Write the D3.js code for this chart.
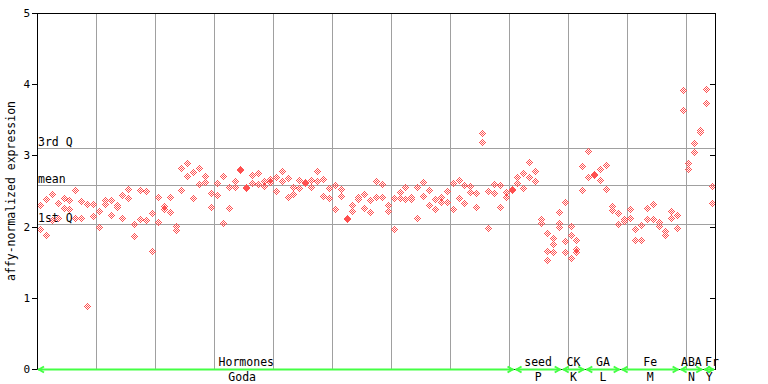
<!DOCTYPE html>
<html><head><meta charset="utf-8">
<script src="https://cdn.jsdelivr.net/npm/d3@7"></script>
<style>body{margin:0;background:#fff}svg{display:block}text{font-family:"DejaVu Sans Mono",monospace;}</style>
</head><body><svg id="c" width="768" height="384"></svg>
<script>
// ---- data ----
const sampleCount = 115;
const replicateA = [2.29,2.37,2.45,2.32,2.39,2.36,2.50,2.34,2.31,2.31,2.21,2.36,2.36,2.29,2.43,2.52,2.02,2.50,2.49,2.17,
 2.40,2.275,2.40,1.99,2.81,2.88,2.75,2.81,2.70,2.46,2.60,2.70,2.54,2.63,2.80,2.54,2.715,2.74,2.63,2.655,
 2.68,2.77,2.67,2.54,2.64,2.61,2.64,2.77,2.655,2.53,2.57,2.514,2.10,2.29,2.40,2.444,2.36,2.63,2.584,2.29,
 2.39,2.47,2.54,2.40,2.54,2.61,2.50,2.374,2.40,2.486,2.60,2.64,2.57,2.556,2.46,3.30,2.486,2.584,2.57,2.47,
 2.514,2.68,2.74,2.89,2.77,2.09,1.90,1.826,2.19,2.33,1.99,1.80,2.84,3.05,2.73,2.795,2.85,2.275,2.18,2.09,
 2.233,1.95,2.01,2.25,2.306,2.05,1.925,2.21,2.15,3.90,2.88,3.16,3.34,3.92,2.556];
const replicateB = [1.95,1.87,2.08,2.11,2.25,2.23,2.11,2.11,0.875,2.14,1.98,2.31,2.15,2.26,2.10,2.39,1.85,2.09,2.08,1.64,
 2.05,2.24,2.19,1.94,2.50,2.70,2.39,2.58,2.61,2.26,2.43,2.04,2.25,2.54,2.786,2.526,2.60,2.584,2.556,2.61,
 2.486,2.63,2.40,2.44,2.53,2.596,2.54,2.63,2.416,2.39,2.233,2.416,2.086,2.205,2.374,2.247,2.19,2.40,2.40,2.205,
 1.95,2.39,2.374,2.374,2.107,2.416,2.29,2.233,2.33,2.33,2.233,2.39,2.317,2.47,2.26,3.174,1.966,2.458,2.26,2.40,
 2.50,2.60,2.53,2.68,2.63,2.036,1.64,1.74,2.036,1.78,1.87,1.67,2.50,2.68,2.716,2.64,2.514,2.22,2.02,2.065,
 2.107,1.80,1.80,2.095,2.095,1.995,1.87,2.11,1.97,3.62,2.79,3.03,3.31,3.72,2.317];
const replicateC = {86:1.51, 87:1.63, 88:1.98, 89:1.63, 90:1.545, 91:1.63};
const yTicks = [0,1,2,3,4,5];
const refLabels = ["3rd Q","mean","1st Q"];
const refValues = [3.104,2.584,2.036];
const groupTop = ["Hormones","seed","CK","GA","Fe","ABA","Fr"];
const groupBottom = ["Goda","P","K","L","M","N","Y"];
const groupStart = [0,81,89,93,99,109,113];
const groupEnd = [81,89,93,99,109,113,115];
const topLabelAt = [35.5,85,91,96,104,111,114.5];
const bottomLabelAt = [34.8,85,91,96,104,111,114];
const yTitle = "affy-normalized expression";

// ---- chart ----
const svg = d3.select("#c");
const L = 37, R = 715, T = 13, B = 369;
const x = d3.scaleLinear().domain([0, sampleCount]).range([L, R]);
const y = d3.scaleLinear().domain([0, 5]).range([B, T]);
const px = v => Math.round(v) + 0.5;
const grid = "#a0a0a0", red = "#ff5050", green = "#44ff44";

// vertical grid
const gx = d3.range(10, sampleCount, 10);
svg.append("g").selectAll("line").data(gx).join("line")
  .attr("x1", d => px(x(d))).attr("x2", d => px(x(d)))
  .attr("y1", T).attr("y2", B).attr("stroke", grid).attr("shape-rendering","crispEdges");
// reference lines
svg.append("g").selectAll("line").data(refValues).join("line")
  .attr("x1", L).attr("x2", R).attr("y1", d => px(y(d))).attr("y2", d => px(y(d)))
  .attr("stroke", grid).attr("shape-rendering","crispEdges");
svg.append("g").selectAll("text").data(refLabels).join("text")
  .attr("x", L + 1).attr("y", (d,i) => Math.round(y(refValues[i])) - 2)
  .attr("font-size", "11.5px").attr("fill", "#000").text(d => d);

// points
const pts = [];
replicateA.forEach((v,i) => pts.push([i, v]));
replicateB.forEach((v,i) => pts.push([i, v]));
Object.entries(replicateC).forEach(([i,v]) => pts.push([+i, v]));
const offs = [];
for (let dx=-3; dx<=3; dx++) for (let dy=-3; dy<=3; dy++)
  if (Math.abs(dx)+Math.abs(dy) <= 3 && Math.abs(dx+dy) % 2 === 1) offs.push([dx,dy]);
const pg = svg.append("g").attr("fill", red).attr("shape-rendering","crispEdges");
pts.forEach(([i,v]) => {
  const cx = Math.round(x(i + 0.5)), cy = Math.round(y(v)) - 1;
  pg.append("g").selectAll("rect").data(offs).join("rect")
    .attr("x", d => cx + d[0]).attr("y", d => cy + d[1]).attr("width", 1).attr("height", 1);
});

// frame & axes
const ax = svg.append("g").attr("stroke", "#000").attr("shape-rendering","crispEdges");
ax.append("line").attr("x1", L+0.5).attr("x2", L+0.5).attr("y1", T).attr("y2", B+1);
ax.append("line").attr("x1", R+0.5).attr("x2", R+0.5).attr("y1", T).attr("y2", B+1);
ax.append("line").attr("x1", L).attr("x2", R+1).attr("y1", T+0.5).attr("y2", T+0.5);
ax.append("line").attr("x1", L).attr("x2", R+1).attr("y1", B+0.5).attr("y2", B+0.5);
ax.selectAll(".tl").data(yTicks).join("line").attr("class","tl")
  .attr("x1", L-5).attr("x2", L).attr("y1", d => px(y(d))).attr("y2", d => px(y(d)));
ax.selectAll(".tr").data(yTicks).join("line").attr("class","tr")
  .attr("x1", R-5).attr("x2", R).attr("y1", d => px(y(d))).attr("y2", d => px(y(d)));
svg.append("g").selectAll("text").data(yTicks).join("text")
  .attr("x", 30).attr("y", d => Math.round(y(d)) + 4).attr("text-anchor","end")
  .attr("font-size","11px").attr("fill","#000").text(d => d);
svg.append("text").attr("transform", `translate(15,${(T+B)/2}) rotate(-90)`)
  .attr("text-anchor","middle").attr("font-size","11.5px").attr("fill","#000").text(yTitle);

// group arrows
const ag = svg.append("g").attr("stroke", green).attr("fill","none").attr("stroke-width", 2);
groupStart.forEach((s,k) => {
  const x0 = x(s) + 1, x1 = x(groupEnd[k]) - 1;
  ag.append("line").attr("x1", x0).attr("x2", x1).attr("y1", B+0.5).attr("y2", B+0.5);
  ag.append("polyline").attr("points", `${x0+6},${B-2.5} ${x0+1},${B+0.5} ${x0+6},${B+3.5}`);
  ag.append("polyline").attr("points", `${x1-6},${B-2.5} ${x1-1},${B+0.5} ${x1-6},${B+3.5}`);
});
svg.append("g").selectAll("text").data(groupTop).join("text")
  .attr("x", (d,k) => x(topLabelAt[k])).attr("y", 366).attr("text-anchor","middle")
  .attr("font-size","11.5px").attr("fill","#000").text(d => d);
svg.append("g").selectAll("text").data(groupBottom).join("text")
  .attr("x", (d,k) => x(bottomLabelAt[k])).attr("y", 381).attr("text-anchor","middle")
  .attr("font-size","11.5px").attr("fill","#000").text(d => d);
</script></body></html>
